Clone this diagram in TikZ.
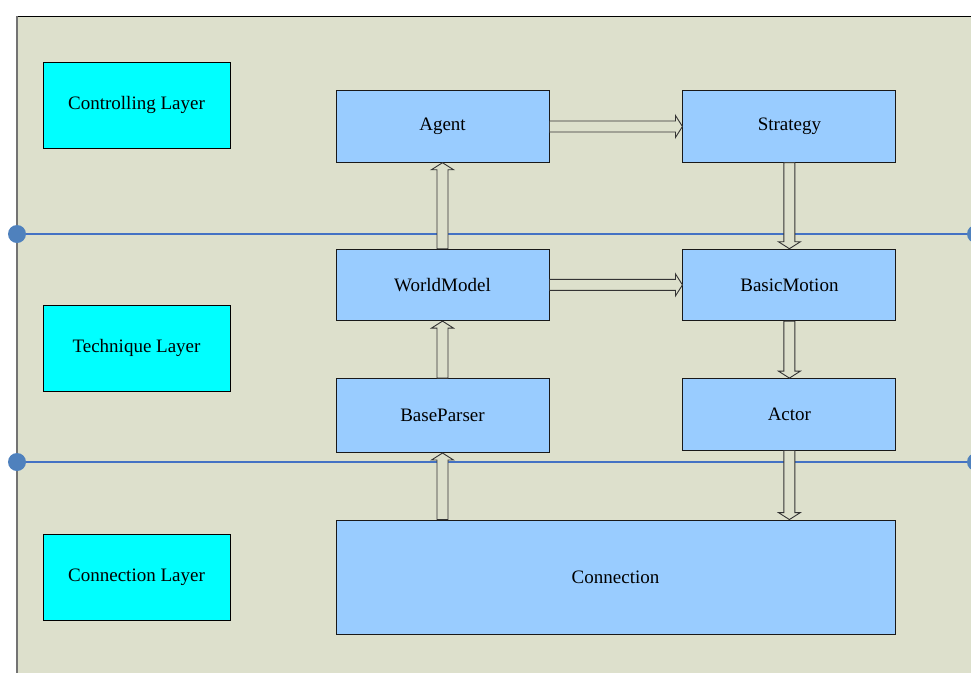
\documentclass[tikz,border=0pt]{standalone}
\usepackage{fontspec}
\setmainfont{Liberation Serif}
\usetikzlibrary{positioning, calc}

\definecolor{bggreen}{RGB}{221,224,204}
\definecolor{modblue}{RGB}{153,204,255}
\definecolor{layercyan}{RGB}{0,255,255}
\definecolor{lineblue}{RGB}{68,114,196}
\definecolor{dotblue}{RGB}{79,129,189}

\begin{document}
\begin{tikzpicture}[x=1pt, y=-1pt,
    every node/.style={font=\fontsize{19}{22}\selectfont},
    layer/.style={rectangle, minimum width=187pt, minimum height=86pt, inner sep=0pt, draw=black, line width=0.9pt, fill=layercyan},
    module/.style={rectangle, minimum width=213pt, minimum height=71.5pt, inner sep=0pt, draw=black!90, line width=0.9pt, fill=modblue},
    sepline/.style={draw=lineblue, line width=1.3pt},
    sepdot/.style={circle, fill=dotblue, minimum size=18pt, inner sep=0pt},
    hollow/.style={draw=black!80, line width=0.9pt, fill=bggreen,
      to path={let \p1=(\tikztostart), \p2=(\tikztotarget),
          \n1={atan2(\y2-\y1,\x2-\x1)}, \n2={veclen(\x2-\x1,\y2-\y1)} in
        [shift={(\p1)}, rotate=\n1]
        (0pt,-5.5pt) -- ({\n2*1pt-7pt},-5.5pt) -- ({\n2*1pt-7pt},-11pt) -- ({\n2*1pt},0pt)
        -- ({\n2*1pt-7pt},11pt) -- ({\n2*1pt-7pt},5.5pt) -- (0pt,5.5pt) -- cycle}}
    ]
    \useasboundingbox (0,0) rectangle (971,673);

    % background panel
    \fill[bggreen] (17,16) rectangle (971,673);
    \draw[black, line width=0.8pt] (17,16) -- (971,16);
    \draw[black!55, line width=1.2pt] (17,16) -- (17,673);

    % layer separators
    \node (ldot1) [sepdot] at (17,234) {};
    \node (rdot1) [sepdot] at (976,234) {};
    \node (ldot2) [sepdot] at (17,462) {};
    \node (rdot2) [sepdot] at (976,462) {};
    \draw [sepline] (ldot1) -- (rdot1);
    \draw [sepline] (ldot2) -- (rdot2);

    % layer labels
    \node (ctrl) [layer] at (136.5,105) {Controlling Layer};
    \node (tech) [layer] at (136.5,348) {Technique Layer};
    \node (conn) [layer] at (136.5,577) {Connection Layer};

    % modules
    \node (agent) [module] at (442.5,126.5) {Agent};
    \node (strategy) [module, right=133pt of agent] {Strategy};
    \node (worldmodel) [module, below=86pt of agent] {WorldModel};
    \node (basicmotion) [module, below=86pt of strategy] {BasicMotion};
    \node (baseparser) [module, below=57pt of worldmodel, minimum height=74pt] {BaseParser};
    \node (actor) [module, below=57pt of basicmotion] {Actor};
    \node (connection) [module, minimum width=559pt, minimum height=114pt] at (615.5,577) {Connection};

    % data flow
    \draw [hollow] (agent.east) to (strategy.west);
    \draw [hollow] (worldmodel.north) to (agent.south);
    \draw [hollow] (strategy.south) to (basicmotion.north);
    \draw [hollow] (worldmodel.east) to (basicmotion.west);
    \draw [hollow] (baseparser.north) to (worldmodel.south);
    \draw [hollow] (basicmotion.south) to (actor.north);
    \draw [hollow] (baseparser.south |- connection.north) to (baseparser.south);
    \draw [hollow] (actor.south) to (actor.south |- connection.north);

\end{tikzpicture}
\end{document}
